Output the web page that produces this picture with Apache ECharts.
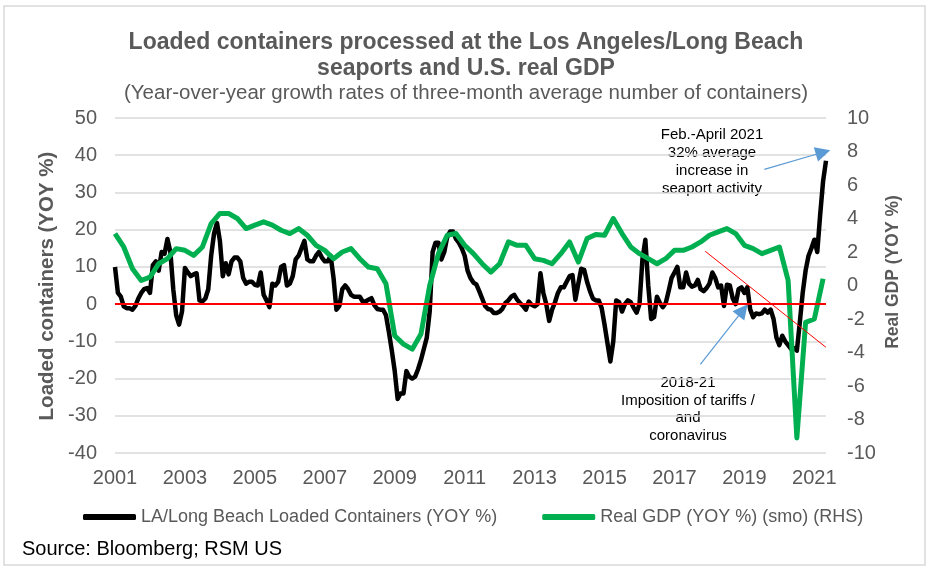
<!DOCTYPE html>
<html>
<head>
<meta charset="utf-8">
<script src="https://cdn.jsdelivr.net/npm/echarts@6/dist/echarts.min.js"></script>
<style>
html,body{margin:0;padding:0;background:#fff;}
#chart{width:936px;height:577px;}
</style>
</head>
<body>
<div id="chart"></div>
<script>
// ---- DATA ----
const startYear = 2001;
// LA/Long Beach loaded containers, YoY %, monthly from Jan 2001 to May 2021
const containerYoY = [
  10, 3, 2, -0.6, -1.1, -1.1, -1.5, -0.5, 1.5, 3, 4, 4.3,
  3, 10.5, 11.5, 9, 14, 13.5, 17.5, 14, 4, -3, -5.5, -2,
  9.7, 8.5, 7.5, 8, 8.3, 1, 0.7, 1.5, 4, 13, 19, 21.8,
  17, 7.5, 11, 8, 11.5, 12.5, 12.5, 11.5, 7, 5.5, 6, 6,
  5.2, 5, 8.5, 2.5, 1, -0.8, 5.5, 5, 6, 10, 10.5, 5,
  5.5, 7.5, 12, 13, 15, 17, 12, 11.5, 11.5, 13, 14, 12.5,
  11.5, 11.5, 13, 7, -1.5, -0.5, 4, 5, 4, 2.5, 2, 2,
  2, 0.7, 0.7, 1.2, 1.6, -0.3, -1.3, -1.5, -1.5, -3, -7.5, -12.5,
  -18, -25.5, -24, -24, -18, -19.5, -20, -19.5, -17.5, -15, -12, -9,
  -2, 14, 16.5, 16.5, 12, 14, 18, 19.5, 19.5, 17.5, 16.5, 15,
  13, 9, 7, 5.8, 5.3, 3.5, 1.5, -0.5, -1.3, -1.5, -2.4, -2.4,
  -2, -1.2, 0.3, 1, 2, 2.5, 1.2, 0.3, -0.5, -1.5, 0.7, -0.2,
  -0.6, 0, 8.3, 3, 0, -4.5, -1.5, 0.5, 3, 4.5, 4.5, 6,
  7.5, 7.8, 1.2, 5.5, 9.5, 9.2, 6, 3.5, 1.5, 1, 1, -1,
  -5.5, -10.5, -15.4, -10, 1, 0.5, -2, 0, 1, 0.5, -1, -2.3,
  0, 12, 17.3, 5, -4, -3.5, 2, 0.3, -0.8, 0.3, 3.5, 7,
  8.5, 10, 4.5, 4.5, 8.5, 5.5, 4.7, 5, 6.5, 4, 3.5, 4.3,
  5.5, 8.5, 7, 4.5, 5, -0.5, 5.2, 5, 1.5, 0, 4, 4.5,
  3, 4.5, -1.5, -3.5, -2.5, -2.7, -2.5, -1.5, -2.3, -1.5, -4, -9,
  -11, -8.5, -10, -11, -12, -11.8, -12.5, -5, 3, 9, 13, 15,
  17.3, 14, 24, 33, 38.5
];
// Real GDP YoY %, quarterly points from Jan 2001 to Apr 2021
const gdpYoY = [
  3.1, 2.3, 1.0, 0.3,
  0.5, 1.3, 1.6, 2.2,
  2.1, 1.8, 2.3, 3.7,
  4.3, 4.3, 4.0, 3.4,
  3.6, 3.8, 3.6, 3.3,
  3.1, 3.4, 3.0, 2.4,
  2.1, 1.6, 2.0, 2.2,
  1.6, 1.1, 1.0, 0.1,
  -3.0, -3.5, -3.8, -2.9,
  0.0, 1.9, 3.0, 3.1,
  2.4, 1.9, 1.3, 0.8,
  1.3, 2.6, 2.4, 2.4,
  1.6, 1.5, 1.3, 1.9,
  2.6, 1.4, 2.8, 3.05,
  3.0, 4.0, 3.1, 2.3,
  1.9, 1.6, 1.3, 1.6,
  2.1, 2.1, 2.3, 2.6,
  3.0, 3.2, 3.4, 3.1,
  2.4, 2.2, 1.9, 2.1,
  2.3, 0.3, -9.1, -2.2,
  -2.0, 0.4
];
const seriesNames = ['LA/Long Beach Loaded Containers (YOY %)', 'Real GDP (YOY %) (smo) (RHS)'];
// annotation anchor points [years since 2001, left-axis value]
const trendLine = [[16.88, 14.2], [20.33, -11.6]];
const arrowTop = [[18.57, 36.2], [20.25, 40.8]];
const arrowBottom = [[16.74, -16.2], [17.96, -1.6]];

// ---- CHART ----
const FONT = '"Liberation Sans", Arial, sans-serif';
const GREY = '#595959';
const chart = echarts.init(document.getElementById('chart'), null, {renderer: 'canvas'});

const blackData = containerYoY.map((v, i) => [i / 12, v]);
const greenData = gdpYoY.map((v, i) => [i / 4, v]);

const option = {
  animation: false,
  backgroundColor: '#fff',
  legend: {
    left: 78, top: 503,
    itemWidth: 53, itemHeight: 6, itemGap: 45,
    icon: 'roundRect',
    textStyle: {fontFamily: FONT, fontSize: 18, color: GREY},
    data: seriesNames
  },
  grid: {left: 115, right: 110, top: 118, bottom: 124, containLabel: false},
  xAxis: {
    type: 'value', min: 0, max: 244 / 12, interval: 2,
    axisLine: {show: false}, axisTick: {show: false}, splitLine: {show: false},
    axisLabel: {
      fontFamily: FONT, fontSize: 20, color: GREY, margin: 15,
      showMaxLabel: true,
      formatter: function (v) {
        const r = Math.round(v);
        return (Math.abs(v - r) < 1e-6 && r % 2 === 0) ? String(startYear + r) : '';
      }
    }
  },
  yAxis: [
    {
      type: 'value', min: -40, max: 50, interval: 10, position: 'left',
      axisLine: {show: false}, axisTick: {show: false},
      splitLine: {lineStyle: {color: '#d9d9d9', width: 1.5}},
      axisLabel: {fontFamily: FONT, fontSize: 20, color: GREY, margin: 18}
    },
    {
      type: 'value', min: -10, max: 10, interval: 2, position: 'right',
      axisLine: {show: false}, axisTick: {show: false}, splitLine: {show: false},
      axisLabel: {fontFamily: FONT, fontSize: 20, color: GREY, margin: 21}
    }
  ],
  series: [
    {
      name: seriesNames[0], type: 'line', yAxisIndex: 0,
      data: blackData, showSymbol: false, symbol: 'none',
      color: '#000000',
      lineStyle: {color: '#000000', width: 4.5, join: 'round'},
      z: 3,
      markLine: {
        silent: true, animation: false,
        label: {show: false},
        emphasis: {disabled: true},
        data: [
          [{coord: trendLine[0], symbol: 'none', lineStyle: {color: '#ff0000', width: 1, type: 'solid'}},
           {coord: trendLine[1], symbol: 'none'}],
          [{coord: arrowTop[0], symbol: 'none', lineStyle: {color: '#5b9bd5', width: 1.2, type: 'solid'}},
           {coord: arrowTop[1], symbol: 'triangle', symbolSize: 15, itemStyle: {color: '#5b9bd5'}}],
          [{coord: arrowBottom[0], symbol: 'none', lineStyle: {color: '#5b9bd5', width: 1.2, type: 'solid'}},
           {coord: arrowBottom[1], symbol: 'triangle', symbolSize: 15, itemStyle: {color: '#5b9bd5'}}]
        ]
      }
    },
    {
      name: seriesNames[1], type: 'line', yAxisIndex: 1,
      data: greenData, showSymbol: false, symbol: 'none',
      color: '#00b050',
      lineStyle: {color: '#00b050', width: 5, join: 'round'},
      z: 4
    },
    {
      name: 'zero', type: 'line', yAxisIndex: 0, data: [],
      z: 2,
      markLine: {
        silent: true, symbol: 'none', label: {show: false},
        lineStyle: {color: '#ff0000', width: 2, type: 'solid'},
        data: [{yAxis: 0}]
      }
    }
  ],
  graphic: [
    {
      type: 'rect', silent: true, z: -1,
      shape: {x: 4, y: 6, width: 921, height: 559},
      style: {fill: 'none', stroke: '#d9d9d9', lineWidth: 1.5}
    },
    {
      type: 'text', silent: true,
      style: {
        text: 'Loaded containers processed at the Los Angeles/Long Beach\nseaports and U.S. real GDP',
        x: 466, y: 30, textAlign: 'center', textVerticalAlign: 'top',
        font: 'bold 23px ' + FONT, lineHeight: 26, fill: GREY
      }
    },
    {
      type: 'text', silent: true,
      style: {
        text: '(Year-over-year growth rates of three-month average number of containers)',
        x: 466, y: 93, textAlign: 'center', textVerticalAlign: 'middle',
        font: '20.5px ' + FONT, fill: GREY
      }
    },
    {
      type: 'text', silent: true, x: 47, y: 286, rotation: Math.PI / 2,
      style: {
        text: 'Loaded containers (YOY %)',
        x: 0, y: 0, textAlign: 'center', textVerticalAlign: 'middle',
        font: 'bold 20.5px ' + FONT, fill: GREY
      }
    },
    {
      type: 'text', silent: true, x: 893, y: 272, rotation: Math.PI / 2,
      style: {
        text: 'Real GDP (YOY %)',
        x: 0, y: 0, textAlign: 'center', textVerticalAlign: 'middle',
        font: 'bold 17.5px ' + FONT, fill: GREY
      }
    },
    {
      type: 'text', silent: true,
      style: {
        text: 'Feb.-April 2021\n32% average\nincrease in\nseaport activity',
        x: 712, y: 126, textAlign: 'center', textVerticalAlign: 'top',
        font: '15px ' + FONT, lineHeight: 18, fill: '#000'
      }
    },
    {
      type: 'text', silent: true,
      style: {
        text: '2018-21\nImposition of tariffs /\nand\ncoronavirus',
        x: 688, y: 374, textAlign: 'center', textVerticalAlign: 'top',
        font: '15px ' + FONT, lineHeight: 17.7, fill: '#000'
      }
    },
    {
      type: 'text', silent: true,
      style: {
        text: 'Source: Bloomberg; RSM US',
        x: 22, y: 539, textAlign: 'left', textVerticalAlign: 'top',
        font: '20px ' + FONT, fill: '#000'
      }
    }
  ]
};
chart.setOption(option);
</script>
</body>
</html>
